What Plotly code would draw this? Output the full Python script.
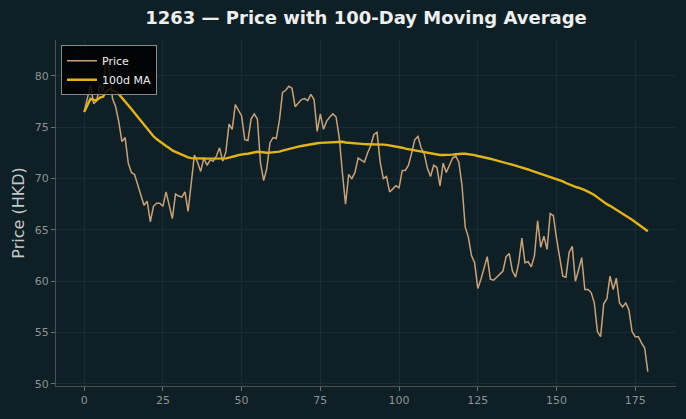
import plotly.graph_objects as go
import pandas as pd

days = list(range(180))
price = [
    76.5, 77.7, 79.1, 77.3, 77.6, 79.2, 78.5, 82.0, 80.5, 77.8,
    77.0, 75.5, 73.6, 74.0, 71.5, 70.6, 70.4, 69.4, 68.3, 67.4,
    67.8, 65.8, 67.3, 67.6, 67.6, 67.3, 68.7, 67.4, 66.1, 68.5,
    68.3, 68.2, 68.7, 66.8, 69.8, 72.3, 71.6, 70.7, 72.0, 71.3,
    71.8, 71.7, 72.2, 73.0, 71.7, 72.6, 75.3, 74.8, 77.2, 76.7,
    76.1, 73.8, 73.7, 75.8, 76.3, 75.8, 71.5, 69.8, 71.0, 73.5,
    74.0, 73.9, 75.7, 78.4, 78.6, 79.0, 78.8, 77.0, 77.4, 77.7,
    77.8, 77.6, 78.2, 77.7, 74.6, 76.3, 74.8, 75.6, 76.0, 76.3,
    76.0, 74.0, 70.6, 67.5, 70.4, 70.0, 70.6, 72.0, 71.8, 71.6,
    72.5, 73.2, 74.3, 74.5, 71.6, 70.0, 70.2, 68.7, 69.0, 69.3,
    69.1, 70.8, 70.8, 71.3, 72.5, 73.8, 74.1, 73.0, 72.4, 71.0,
    70.2, 71.3, 71.1, 69.3, 71.5, 70.6, 71.3, 72.0, 72.2, 71.6,
    69.3, 65.3, 64.3, 62.5, 61.8, 59.3, 60.2, 61.3, 62.4, 60.2,
    60.1, 60.4, 60.7, 61.0, 62.4, 62.7, 61.0, 60.4, 61.8, 64.2,
    61.8, 61.9, 61.4, 62.5, 65.9, 63.3, 64.4, 63.1, 66.6, 66.4,
    64.2, 62.4, 60.5, 60.4, 62.8, 63.4, 60.0, 61.1, 62.3, 59.2,
    59.2, 58.9, 57.9, 55.1, 54.6, 57.8, 58.3, 60.5, 59.2, 60.3,
    57.9, 57.5, 57.9, 57.2, 55.1, 54.6, 54.6, 54.0, 53.5, 51.2,
]
ma_window = 100
ma = pd.Series(price).rolling(ma_window, min_periods=1).mean().tolist()

x_ticks = [0, 25, 50, 75, 100, 125, 150, 175]
y_ticks = [50, 55, 60, 65, 70, 75, 80]

bg = "#0f1f26"
grid = "#1b2b33"

fig = go.Figure()
fig.add_trace(go.Scatter(x=days, y=price, mode="lines", name="Price",
                         line=dict(color="#c9a27a", width=1.5)))
fig.add_trace(go.Scatter(x=days, y=ma, mode="lines", name="100d MA",
                         line=dict(color="#e2b41c", width=2.4)))

fig.update_layout(
    width=686, height=419,
    margin=dict(l=56, r=10, t=40, b=33),
    paper_bgcolor=bg, plot_bgcolor=bg,
    font=dict(family="DejaVu Sans", color="#9aa0a4", size=11),
    title=dict(text="<b>1263 — Price with 100-Day Moving Average</b>",
               x=0.5, xref="paper", xanchor="center",
               y=0.957, yref="container", yanchor="middle",
               font=dict(size=18, color="#eeeeee", family="DejaVu Sans")),
    legend=dict(x=0.008, y=0.985, xanchor="left", yanchor="top",
                bgcolor="rgba(0,0,0,0.85)", bordercolor="#8a8a8a", borderwidth=1,
                font=dict(size=11, color="#eeeeee"),
                itemwidth=30, tracegroupgap=0),
    showlegend=True,
)
fig.update_xaxes(range=[-8.95, 187.95], tickvals=x_ticks, showgrid=True,
                 gridcolor=grid, gridwidth=1, zeroline=False,
                 showline=True, linecolor="#4a4f52", linewidth=1,
                 ticks="outside", ticklen=4, tickcolor="#6a7074",
                 tickfont=dict(size=11, color="#8d9396"))
fig.update_yaxes(range=[49.8, 83.5], tickvals=y_ticks, showgrid=True,
                 gridcolor=grid, gridwidth=1, zeroline=False,
                 showline=True, linecolor="#4a4f52", linewidth=1,
                 ticks="outside", ticklen=4, tickcolor="#6a7074",
                 tickfont=dict(size=11, color="#8d9396"),
                 title=dict(text="Price (HKD)", font=dict(size=16, color="#c4c8ca"),
                            standoff=6))

fig.write_html("out.html")
